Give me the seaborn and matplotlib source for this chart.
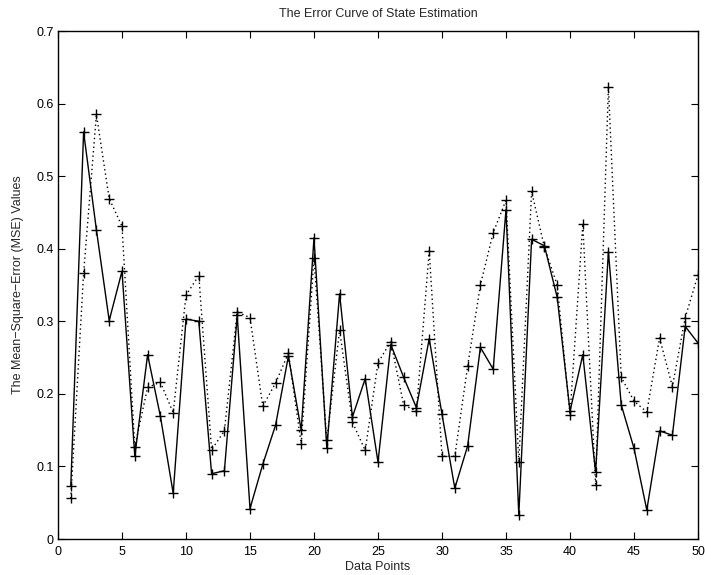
import matplotlib
matplotlib.use("Agg")
import matplotlib.pyplot as plt
import seaborn as sns
import numpy as np
import pandas as pd

points = list(range(1, 51))
solid_mse = [0.073, 0.561, 0.426, 0.301, 0.369, 0.114, 0.254, 0.169, 0.063, 0.303,
             0.300, 0.090, 0.094, 0.308, 0.042, 0.103, 0.157, 0.252, 0.150, 0.415,
             0.125, 0.338, 0.168, 0.221, 0.106, 0.268, 0.223, 0.181, 0.276, 0.172,
             0.070, 0.128, 0.264, 0.234, 0.454, 0.033, 0.413, 0.404, 0.333, 0.176,
             0.254, 0.092, 0.396, 0.185, 0.125, 0.040, 0.149, 0.143, 0.293, 0.270]
dotted_mse = [0.056, 0.366, 0.585, 0.469, 0.431, 0.127, 0.209, 0.216, 0.174, 0.336,
              0.363, 0.123, 0.149, 0.313, 0.305, 0.183, 0.215, 0.256, 0.131, 0.387,
              0.136, 0.288, 0.161, 0.122, 0.243, 0.272, 0.185, 0.176, 0.397, 0.114,
              0.114, 0.238, 0.350, 0.422, 0.467, 0.106, 0.479, 0.402, 0.350, 0.171,
              0.434, 0.075, 0.623, 0.223, 0.190, 0.175, 0.277, 0.210, 0.305, 0.364]
xticks = [0, 5, 10, 15, 20, 25, 30, 35, 40, 45, 50]
yticks = [0, 0.1, 0.2, 0.3, 0.4, 0.5, 0.6, 0.7]
ytick_labels = ["0", "0.1", "0.2", "0.3", "0.4", "0.5", "0.6", "0.7"]

sns.set_style("ticks")
plt.rcParams['font.family'] = ['Liberation Sans', 'DejaVu Sans']

fig = plt.figure(figsize=(7.05, 5.75), dpi=100)
ax = fig.add_axes([58/705, 1 - 539/575, (698-58)/705, (539-31)/575])

sns.lineplot(x=points, y=dotted_mse, ax=ax, color='black', linestyle=(0, (1, 2.2)),
             linewidth=1.0, marker='+', markersize=7.5, markeredgewidth=1.0,
             markeredgecolor='black')
sns.lineplot(x=points, y=solid_mse, ax=ax, color='black', linestyle='-',
             linewidth=1.0, marker='+', markersize=7.5, markeredgewidth=1.0,
             markeredgecolor='black')

ax.set_xlim(0, 50)
ax.set_ylim(0, 0.7)
ax.set_xticks(xticks)
ax.set_xticklabels([str(t) for t in xticks])
ax.set_yticks(yticks)
ax.set_yticklabels(ytick_labels)
ax.tick_params(direction='in', length=5, width=0.8, top=True, right=True,
               labelsize=9, colors='black')
ax.tick_params(axis='x', pad=5)
ax.tick_params(axis='y', pad=3)
for s in ax.spines.values():
    s.set_visible(True)
    s.set_linewidth(1.0)
    s.set_color('black')

ax.set_title("The Error Curve of State Estimation", fontsize=9, pad=10)
ax.set_xlabel("Data Points", fontsize=9, labelpad=2)
ax.set_ylabel("The Mean\u2212Square\u2212Error (MSE) Values", fontsize=9, labelpad=9)

fig.savefig("out.png", dpi=100)
